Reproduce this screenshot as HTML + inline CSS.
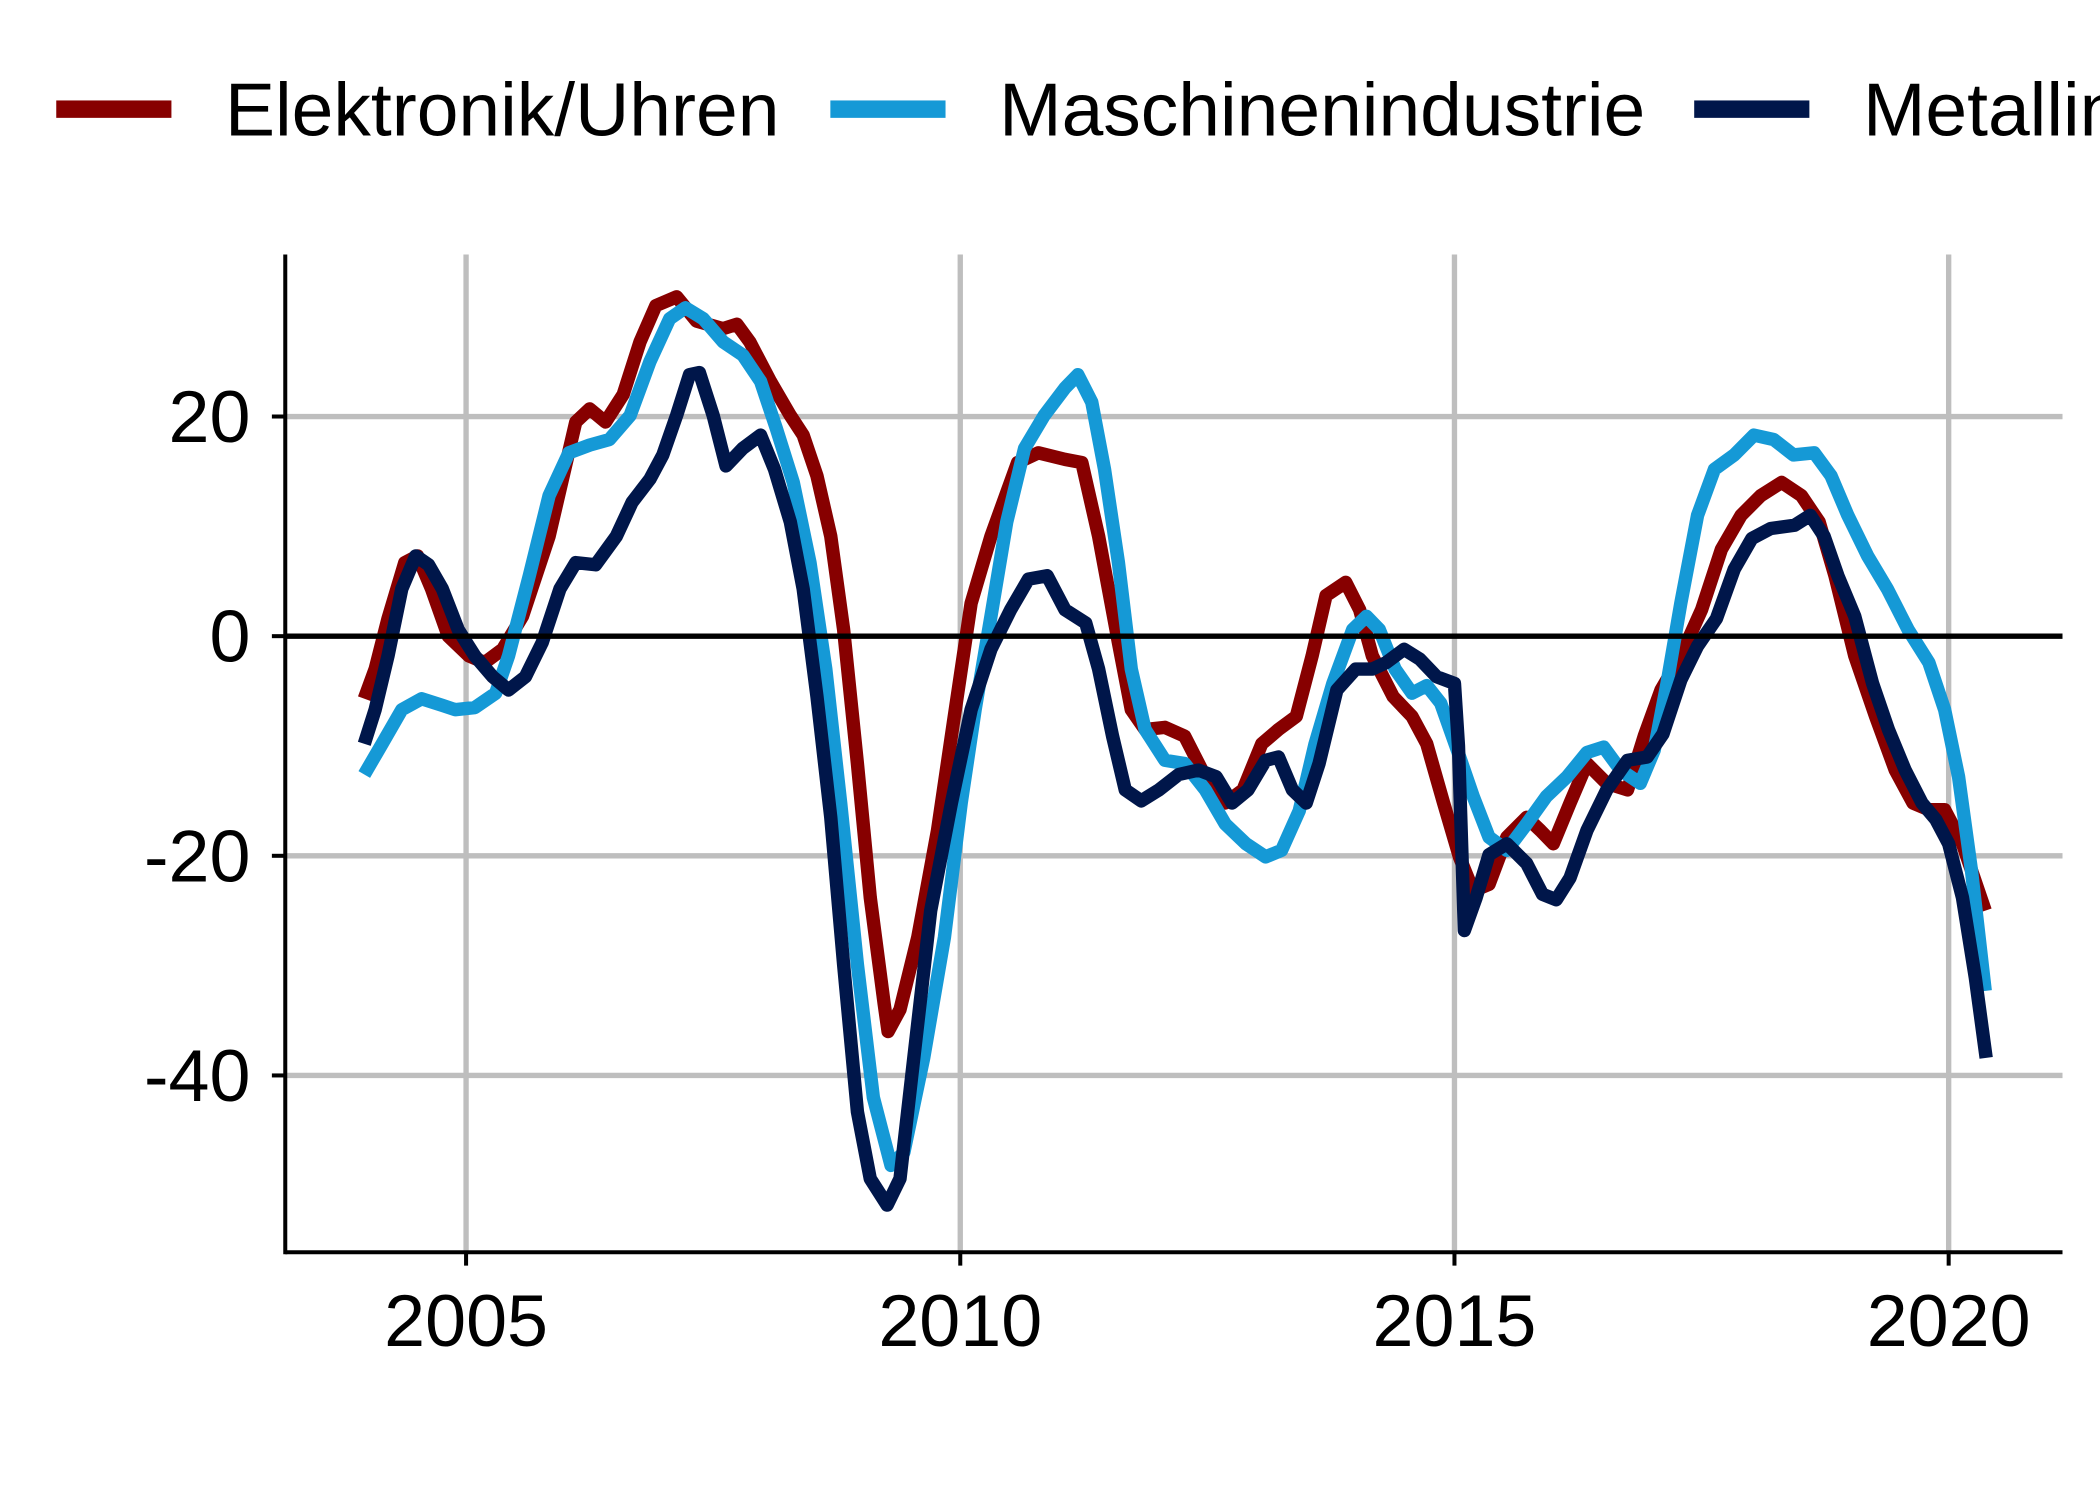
<!DOCTYPE html>
<html><head><meta charset="utf-8">
<style>
html,body{margin:0;padding:0;background:#fff;}
svg{display:block;}
text{font-family:"Liberation Sans",sans-serif;}
</style></head>
<body>
<svg id="chart" width="2100" height="1500" viewBox="0 0 1568 1120" preserveAspectRatio="none" xmlns="http://www.w3.org/2000/svg">
<g id="grid"></g>
<g id="series"></g>
<g id="axes"></g>
<g id="legend"></g>
</svg>
<script>
const xTicks = [2005, 2010, 2015, 2020];
const yTicks = [20, 0, -20, -40];
const seriesNames = ["Elektronik/Uhren", "Maschinenindustrie", "Metallindustrie"];
const seriesColors = ["#870000", "#1599d6", "#00164a"];

const elekYears = [2003.97,2004.08,2004.21,2004.38,2004.51,2004.65,2004.82,2005.03,2005.19,2005.37,2005.57,2005.84,2006.11,2006.25,2006.41,2006.59,2006.76,2006.92,2007.13,2007.33,2007.6,2007.74,2007.87,2008.08,2008.28,2008.41,2008.55,2008.69,2008.82,2008.96,2009.09,2009.23,2009.27,2009.39,2009.57,2009.77,2009.93,2010.11,2010.31,2010.58,2010.79,2011.06,2011.23,2011.4,2011.6,2011.73,2011.87,2012.07,2012.27,2012.48,2012.68,2012.86,2013.05,2013.22,2013.4,2013.56,2013.7,2013.9,2014.04,2014.17,2014.38,2014.57,2014.72,2014.89,2015.05,2015.19,2015.35,2015.53,2015.73,2015.87,2016.0,2016.17,2016.34,2016.54,2016.75,2016.92,2017.09,2017.29,2017.5,2017.7,2017.9,2018.1,2018.31,2018.51,2018.69,2018.85,2019.05,2019.26,2019.46,2019.64,2019.8,2019.96,2020.14,2020.37];
const elekValues = [-5.7,-3,1.6,6.7,7.3,4.3,0,-1.8,-2.4,-1.2,1.8,9.1,19.5,20.7,19.5,22,26.8,30.1,30.9,28.7,28,28.4,26.8,23.2,20.1,18.3,14.6,9.1,0.6,-11.6,-23.8,-33.5,-36,-34,-27.4,-17.7,-7.9,3,9.1,15.8,16.7,16.1,15.8,9.1,-0.6,-6.7,-8.5,-8.3,-9.1,-12.8,-15.2,-14,-9.8,-8.5,-7.3,-1.8,3.7,4.9,2.4,-1.8,-5.5,-7.3,-9.8,-15.2,-20.1,-23.2,-22.6,-18.3,-16.5,-17.7,-18.9,-15.2,-11.6,-13.4,-14,-9.1,-4.9,-1.8,2.4,7.9,11,12.8,14,12.8,10.4,5.5,-1.8,-7.3,-12.2,-15.2,-15.8,-15.8,-18.9,-25];

const maschYears = [2003.97,2004.15,2004.35,2004.55,2004.76,2004.89,2005.09,2005.3,2005.43,2005.64,2005.84,2006.04,2006.25,2006.45,2006.66,2006.86,2007.06,2007.22,2007.4,2007.6,2007.8,2007.98,2008.14,2008.31,2008.48,2008.64,2008.79,2008.96,2009.12,2009.3,2009.43,2009.63,2009.84,2010.01,2010.15,2010.31,2010.47,2010.65,2010.85,2011.06,2011.19,2011.33,2011.46,2011.6,2011.73,2011.87,2012.07,2012.27,2012.48,2012.68,2012.89,2013.09,2013.25,2013.43,2013.59,2013.77,2013.97,2014.11,2014.24,2014.4,2014.57,2014.72,2014.86,2015.03,2015.19,2015.35,2015.53,2015.73,2015.93,2016.14,2016.34,2016.51,2016.68,2016.88,2017.02,2017.15,2017.29,2017.46,2017.63,2017.83,2018.03,2018.23,2018.43,2018.64,2018.81,2018.98,2019.18,2019.38,2019.59,2019.8,2019.96,2020.1,2020.23,2020.37];
const maschValues = [-12.6,-9.8,-6.7,-5.7,-6.3,-6.7,-6.5,-5.2,-1.8,5.5,12.8,16.7,17.4,17.9,20.1,25,28.9,29.9,28.9,26.8,25.6,23.2,18.9,14,6.7,-3,-15.2,-29.9,-42,-48.2,-47,-38.4,-27.4,-15.2,-6.7,1.8,10.4,17.1,20.1,22.6,23.8,21.3,15.2,6.7,-3,-8.5,-11.3,-11.6,-14,-17.1,-18.9,-20.1,-19.5,-15.9,-9.8,-4.3,0.6,1.8,0.6,-3,-5.2,-4.5,-6.1,-10.4,-14.6,-18.3,-19.5,-17.1,-14.6,-12.8,-10.6,-10.1,-12.2,-13.4,-10.4,-4.3,3,11,15.2,16.5,18.3,17.9,16.5,16.7,14.6,11,7.3,4.3,0.6,-2.4,-6.7,-12.8,-21.3,-32.3];

const metYears = [2003.97,2004.08,2004.21,2004.35,2004.49,2004.62,2004.76,2004.92,2005.09,2005.27,2005.43,2005.6,2005.77,2005.95,2006.11,2006.31,2006.52,2006.68,2006.86,2006.99,2007.13,2007.26,2007.36,2007.5,2007.63,2007.8,2007.98,2008.12,2008.28,2008.41,2008.55,2008.69,2008.82,2008.96,2009.09,2009.26,2009.39,2009.53,2009.7,2009.91,2010.11,2010.31,2010.51,2010.69,2010.88,2011.06,2011.27,2011.4,2011.54,2011.67,2011.83,2012.01,2012.21,2012.41,2012.59,2012.75,2012.91,2013.09,2013.22,2013.36,2013.5,2013.63,2013.81,2014.0,2014.17,2014.31,2014.49,2014.65,2014.82,2015.0,2015.04,2015.1,2015.22,2015.35,2015.53,2015.73,2015.89,2016.03,2016.17,2016.34,2016.54,2016.75,2016.95,2017.11,2017.29,2017.46,2017.65,2017.83,2018.01,2018.2,2018.44,2018.6,2018.74,2018.88,2019.05,2019.23,2019.39,2019.56,2019.73,2019.87,2020.0,2020.14,2020.27,2020.38];
const metValues = [-9.8,-6.7,-1.8,4.3,7.3,6.5,4.3,0.6,-1.8,-3.7,-4.9,-3.7,-0.6,4.3,6.7,6.5,9.1,12.2,14.3,16.5,20.1,23.8,24,20.1,15.5,17.1,18.3,15.2,10.4,4.3,-5.5,-16.5,-29.9,-43.3,-49.4,-51.8,-49.4,-38.4,-25,-15.2,-6.7,-1.2,2.4,5.2,5.5,2.4,1.2,-3,-9.1,-14,-15,-14,-12.6,-12.2,-12.8,-15.2,-14,-11.3,-11,-14,-15.2,-11.6,-4.9,-3,-3,-2.4,-1.2,-2.1,-3.7,-4.3,-10,-26.8,-23.8,-19.9,-18.9,-20.7,-23.5,-24,-22,-17.7,-14,-11.3,-11,-8.9,-4,-0.9,1.6,6.1,8.9,9.8,10.1,11,9.1,5.5,1.8,-4.3,-8.5,-12.2,-15.2,-16.7,-18.9,-23.8,-31.1,-38.4];

const NS = "http://www.w3.org/2000/svg";
const X0 = 213, X1 = 1540, YTOP = 190, YBOT = 935;
function xScale(yr){ return 348 + (yr - 2005) * 73.8; }
function yScale(v){ return 475 - v * 8.2; }
function mk(tag, attrs, parent){
  const e = document.createElementNS(NS, tag);
  for (const k in attrs) e.setAttribute(k, attrs[k]);
  parent.appendChild(e); return e;
}
const grid = document.getElementById('grid');
const axes = document.getElementById('axes');
const series = document.getElementById('series');
const legend = document.getElementById('legend');

xTicks.forEach(t => {
  const l = mk('line', {x1:xScale(t), x2:xScale(t), y1:YTOP, y2:YBOT, stroke:'#bebebe', 'stroke-width':4}, grid);
  
  
  const tk = mk('line', {x1:xScale(t), x2:xScale(t), y1:YBOT, y2:YBOT+10, stroke:'#000', 'stroke-width':3}, axes);
  
  
  const tx = mk('text', {x:xScale(t), y:1005, 'text-anchor':'middle', 'font-size':55, fill:'#000'}, axes);
  tx.textContent = t;
  
  
});
yTicks.forEach(t => {
  if (t !== 0) {
    const l = mk('line', {x1:X0, x2:X1, y1:yScale(t), y2:yScale(t), stroke:'#bebebe', 'stroke-width':4}, grid);
    
    
  }
  const tk = mk('line', {x1:X0-10, x2:X0, y1:yScale(t), y2:yScale(t), stroke:'#000', 'stroke-width':3}, axes);
  
  
  const tx = mk('text', {x:187, y:yScale(t)+19, 'text-anchor':'end', 'font-size':55, fill:'#000'}, axes);
  tx.textContent = t;
  
  
});
const zl = mk('line', {x1:X0, x2:X1, y1:yScale(0), y2:yScale(0), stroke:'#000', 'stroke-width':4}, axes);


const ya = mk('line', {x1:X0, x2:X0, y1:YTOP, y2:YBOT+1.5, stroke:'#000', 'stroke-width':3}, axes);


const xa = mk('line', {x1:X0, x2:X1, y1:YBOT, y2:YBOT, stroke:'#000', 'stroke-width':3}, axes);



const allYears = [elekYears, maschYears, metYears];
const allVals = [elekValues, maschValues, metValues];
const lineNames = ['elektronik-line', 'maschinen-line', 'metall-line'];
for (let s = 0; s < 3; s++) {
  const pts = allYears[s].map((yr, i) => xScale(yr).toFixed(1) + ',' + yScale(allVals[s][i]).toFixed(1)).join(' ');
  const p = mk('polyline', {points:pts, fill:'none', stroke:seriesColors[s], 'stroke-width':10, 'stroke-linejoin':'round'}, series);
  
  
}

const legX = [42, 620, 1265];
for (let s = 0; s < 3; s++) {
  const k = mk('rect', {x:legX[s], y:75, width:86, height:13, fill:seriesColors[s]}, legend);
  
  
  const t = mk('text', {x:legX[s]+126, y:101, 'font-size':56, fill:'#000'}, legend);
  t.textContent = seriesNames[s];
  
  
}
</script>
</body></html>
